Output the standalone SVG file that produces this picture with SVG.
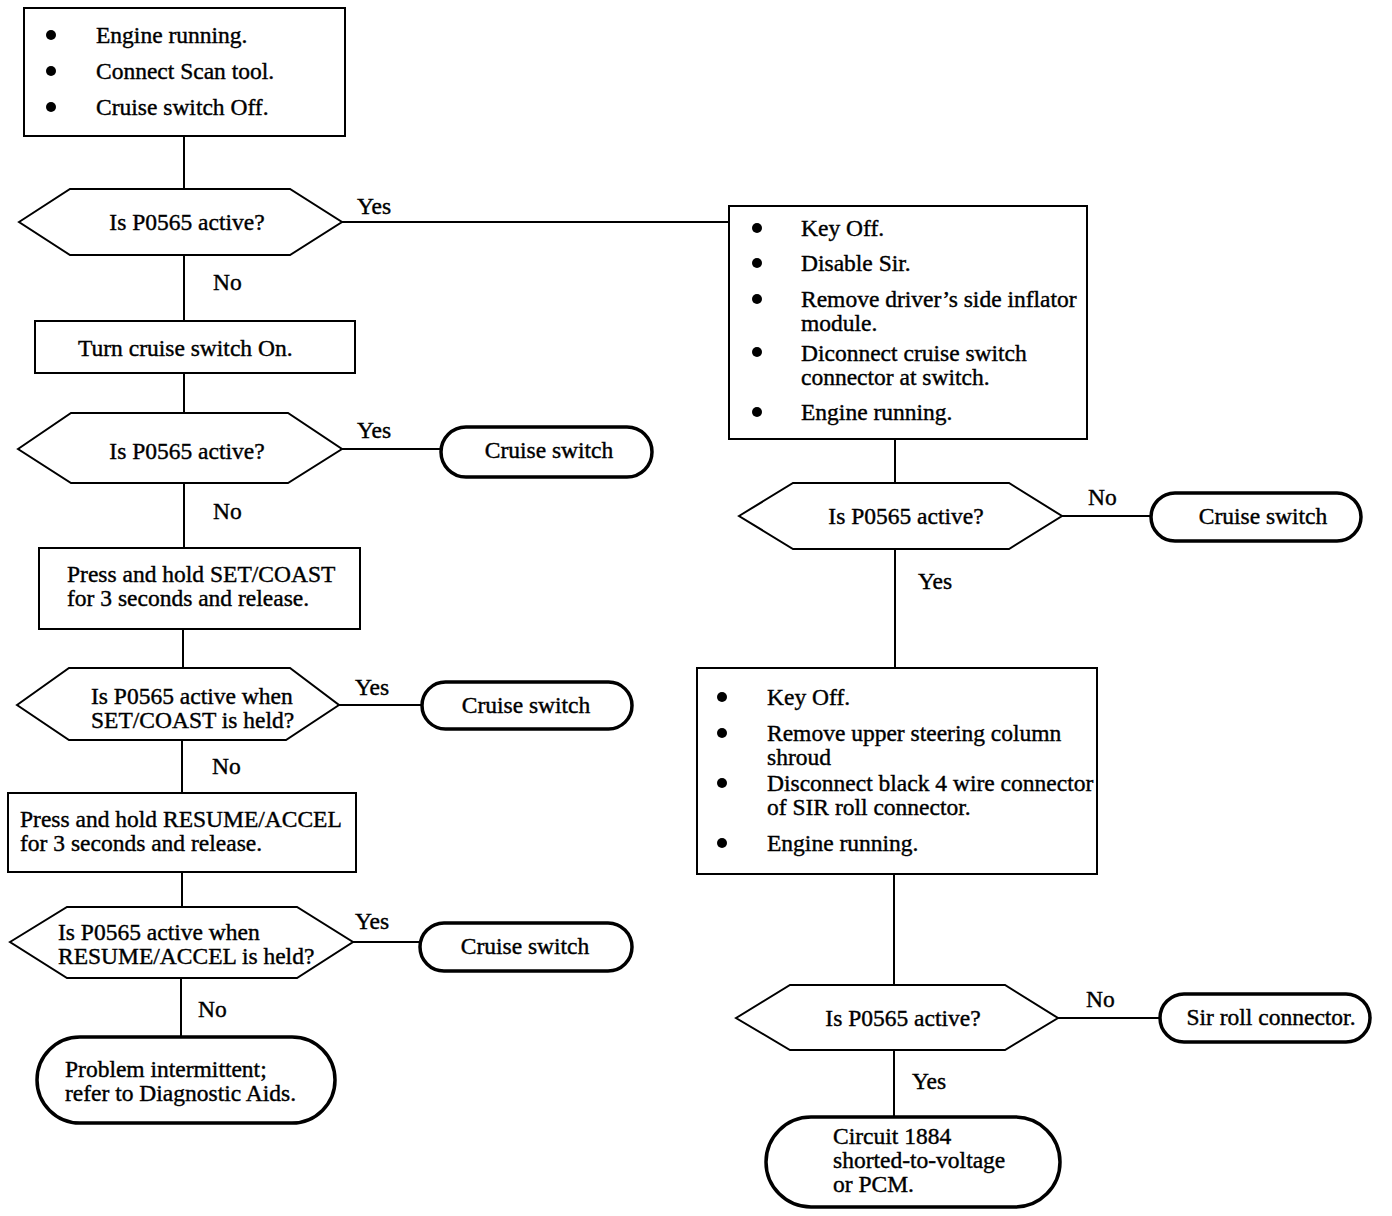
<svg xmlns="http://www.w3.org/2000/svg" width="1392" height="1216" viewBox="0 0 1392 1216">
<style>
.bg{fill:#fff}
.box{fill:#fff;stroke:#000;stroke-width:2}
.hex{fill:#fff;stroke:#000;stroke-width:2;stroke-linejoin:miter}
.term{fill:#fff;stroke:#000;stroke-width:3.5}
.line{stroke:#000;stroke-width:2;fill:none}
text{font-family:"Liberation Serif","Times New Roman",serif;font-size:23.5px;fill:#000;stroke:#000;stroke-width:0.4}
.mid{text-anchor:middle}
.dot{fill:#000}
</style>
<rect class="bg" x="0" y="0" width="1392" height="1216"/>
<g id="connectors">
<line class="line" x1="184" y1="136" x2="184" y2="189"/>
<line class="line" x1="184" y1="255" x2="184" y2="321"/>
<line class="line" x1="342" y1="222" x2="729" y2="222"/>
<line class="line" x1="184" y1="373" x2="184" y2="413"/>
<line class="line" x1="342" y1="449" x2="441" y2="449"/>
<line class="line" x1="184" y1="483" x2="184" y2="548"/>
<line class="line" x1="183" y1="629" x2="183" y2="668"/>
<line class="line" x1="339" y1="705" x2="422" y2="705"/>
<line class="line" x1="182" y1="740" x2="182" y2="793"/>
<line class="line" x1="182" y1="872" x2="182" y2="907"/>
<line class="line" x1="353" y1="942" x2="420" y2="942"/>
<line class="line" x1="181" y1="978" x2="181" y2="1037"/>
<line class="line" x1="895" y1="439" x2="895" y2="483"/>
<line class="line" x1="1062" y1="516" x2="1150" y2="516"/>
<line class="line" x1="895" y1="549" x2="895" y2="668"/>
<line class="line" x1="894" y1="874" x2="894" y2="985"/>
<line class="line" x1="1058" y1="1018" x2="1160" y2="1018"/>
<line class="line" x1="894" y1="1050" x2="894" y2="1117"/>
<text x="357" y="214">Yes</text>
<text x="213" y="290">No</text>
<text x="357" y="438">Yes</text>
<text x="213" y="519">No</text>
<text x="355" y="695">Yes</text>
<text x="212" y="774">No</text>
<text x="355" y="929">Yes</text>
<text x="198" y="1017">No</text>
<text x="1088" y="505">No</text>
<text x="918" y="589">Yes</text>
<text x="1086" y="1007">No</text>
<text x="912" y="1089">Yes</text>
</g>
<g id="start">
<rect class="box" x="24" y="8" width="321" height="128"/>
<circle class="dot" cx="51" cy="35" r="5"/>
<circle class="dot" cx="51" cy="71" r="5"/>
<circle class="dot" cx="51" cy="107" r="5"/>
<text x="96" y="43">Engine running.</text>
<text x="96" y="79">Connect Scan tool.</text>
<text x="96" y="115">Cruise switch Off.</text>
</g>
<g id="q1">
<polygon class="hex" points="19,222 70,189 290,189 342,222 290,255 70,255"/>
<text class="mid" x="187" y="230">Is P0565 active?</text>
</g>
<g id="turn-on">
<rect class="box" x="35" y="321" width="320" height="52"/>
<text x="78" y="356">Turn cruise switch On.</text>
</g>
<g id="q2">
<polygon class="hex" points="18,449 71,413 288,413 342,449 288,483 71,483"/>
<text class="mid" x="187" y="459">Is P0565 active?</text>
</g>
<g id="cruise1">
<rect class="term" x="441" y="427" width="211" height="50" rx="25" ry="25"/>
<text class="mid" x="549" y="458">Cruise switch</text>
</g>
<g id="set-coast">
<rect class="box" x="39" y="548" width="321" height="81"/>
<text x="67" y="582">Press and hold SET/COAST</text>
<text x="67" y="606">for 3 seconds and release.</text>
</g>
<g id="q3">
<polygon class="hex" points="17,705 69,668 290,668 339,705 286,740 69,740"/>
<text x="91" y="704">Is P0565 active when</text>
<text x="91" y="728">SET/COAST is held?</text>
</g>
<g id="cruise2">
<rect class="term" x="422" y="682" width="210" height="47" rx="23.5" ry="23.5"/>
<text class="mid" x="526" y="713">Cruise switch</text>
</g>
<g id="resume-accel">
<rect class="box" x="8" y="793" width="348" height="79"/>
<text x="20" y="827">Press and hold RESUME/ACCEL</text>
<text x="20" y="851">for 3 seconds and release.</text>
</g>
<g id="q4">
<polygon class="hex" points="10,942 67,907 297,907 353,942 297,978 67,978"/>
<text x="58" y="940">Is P0565 active when</text>
<text x="58" y="964">RESUME/ACCEL is held?</text>
</g>
<g id="cruise3">
<rect class="term" x="420" y="923" width="212" height="48" rx="24" ry="24"/>
<text class="mid" x="525" y="954">Cruise switch</text>
</g>
<g id="intermittent">
<rect class="term" x="37" y="1037" width="298" height="86" rx="43" ry="43"/>
<text x="65" y="1077">Problem intermittent;</text>
<text x="65" y="1101">refer to Diagnostic Aids.</text>
</g>
<g id="disable-sir">
<rect class="box" x="729" y="206" width="358" height="233"/>
<circle class="dot" cx="757" cy="228" r="5"/>
<circle class="dot" cx="757" cy="263" r="5"/>
<circle class="dot" cx="757" cy="299" r="5"/>
<circle class="dot" cx="757" cy="352" r="5"/>
<circle class="dot" cx="757" cy="412" r="5"/>
<text x="801" y="236">Key Off.</text>
<text x="801" y="271">Disable Sir.</text>
<text x="801" y="307">Remove driver’s side inflator</text>
<text x="801" y="331">module.</text>
<text x="801" y="361">Diconnect cruise switch</text>
<text x="801" y="385">connector at switch.</text>
<text x="801" y="420">Engine running.</text>
</g>
<g id="q5">
<polygon class="hex" points="739,516 793,483 1009,483 1062,516 1009,549 793,549"/>
<text class="mid" x="906" y="524">Is P0565 active?</text>
</g>
<g id="cruise4">
<rect class="term" x="1151" y="493" width="210" height="48" rx="24" ry="24"/>
<text class="mid" x="1263" y="524">Cruise switch</text>
</g>
<g id="shroud">
<rect class="box" x="697" y="668" width="400" height="206"/>
<circle class="dot" cx="722" cy="697" r="5"/>
<circle class="dot" cx="722" cy="733" r="5"/>
<circle class="dot" cx="722" cy="783" r="5"/>
<circle class="dot" cx="722" cy="843" r="5"/>
<text x="767" y="705">Key Off.</text>
<text x="767" y="741">Remove upper steering column</text>
<text x="767" y="765">shroud</text>
<text x="767" y="791">Disconnect black 4 wire connector</text>
<text x="767" y="815">of SIR roll connector.</text>
<text x="767" y="851">Engine running.</text>
</g>
<g id="q6">
<polygon class="hex" points="736,1018 790,985 1005,985 1058,1018 1005,1050 790,1050"/>
<text class="mid" x="903" y="1026">Is P0565 active?</text>
</g>
<g id="sir-roll">
<rect class="term" x="1160" y="994" width="210" height="48" rx="24" ry="24"/>
<text class="mid" x="1271" y="1025">Sir roll connector.</text>
</g>
<g id="circuit">
<rect class="term" x="766" y="1117" width="294" height="90" rx="45" ry="45"/>
<text x="833" y="1144">Circuit 1884</text>
<text x="833" y="1168">shorted-to-voltage</text>
<text x="833" y="1192">or PCM.</text>
</g>
</svg>
